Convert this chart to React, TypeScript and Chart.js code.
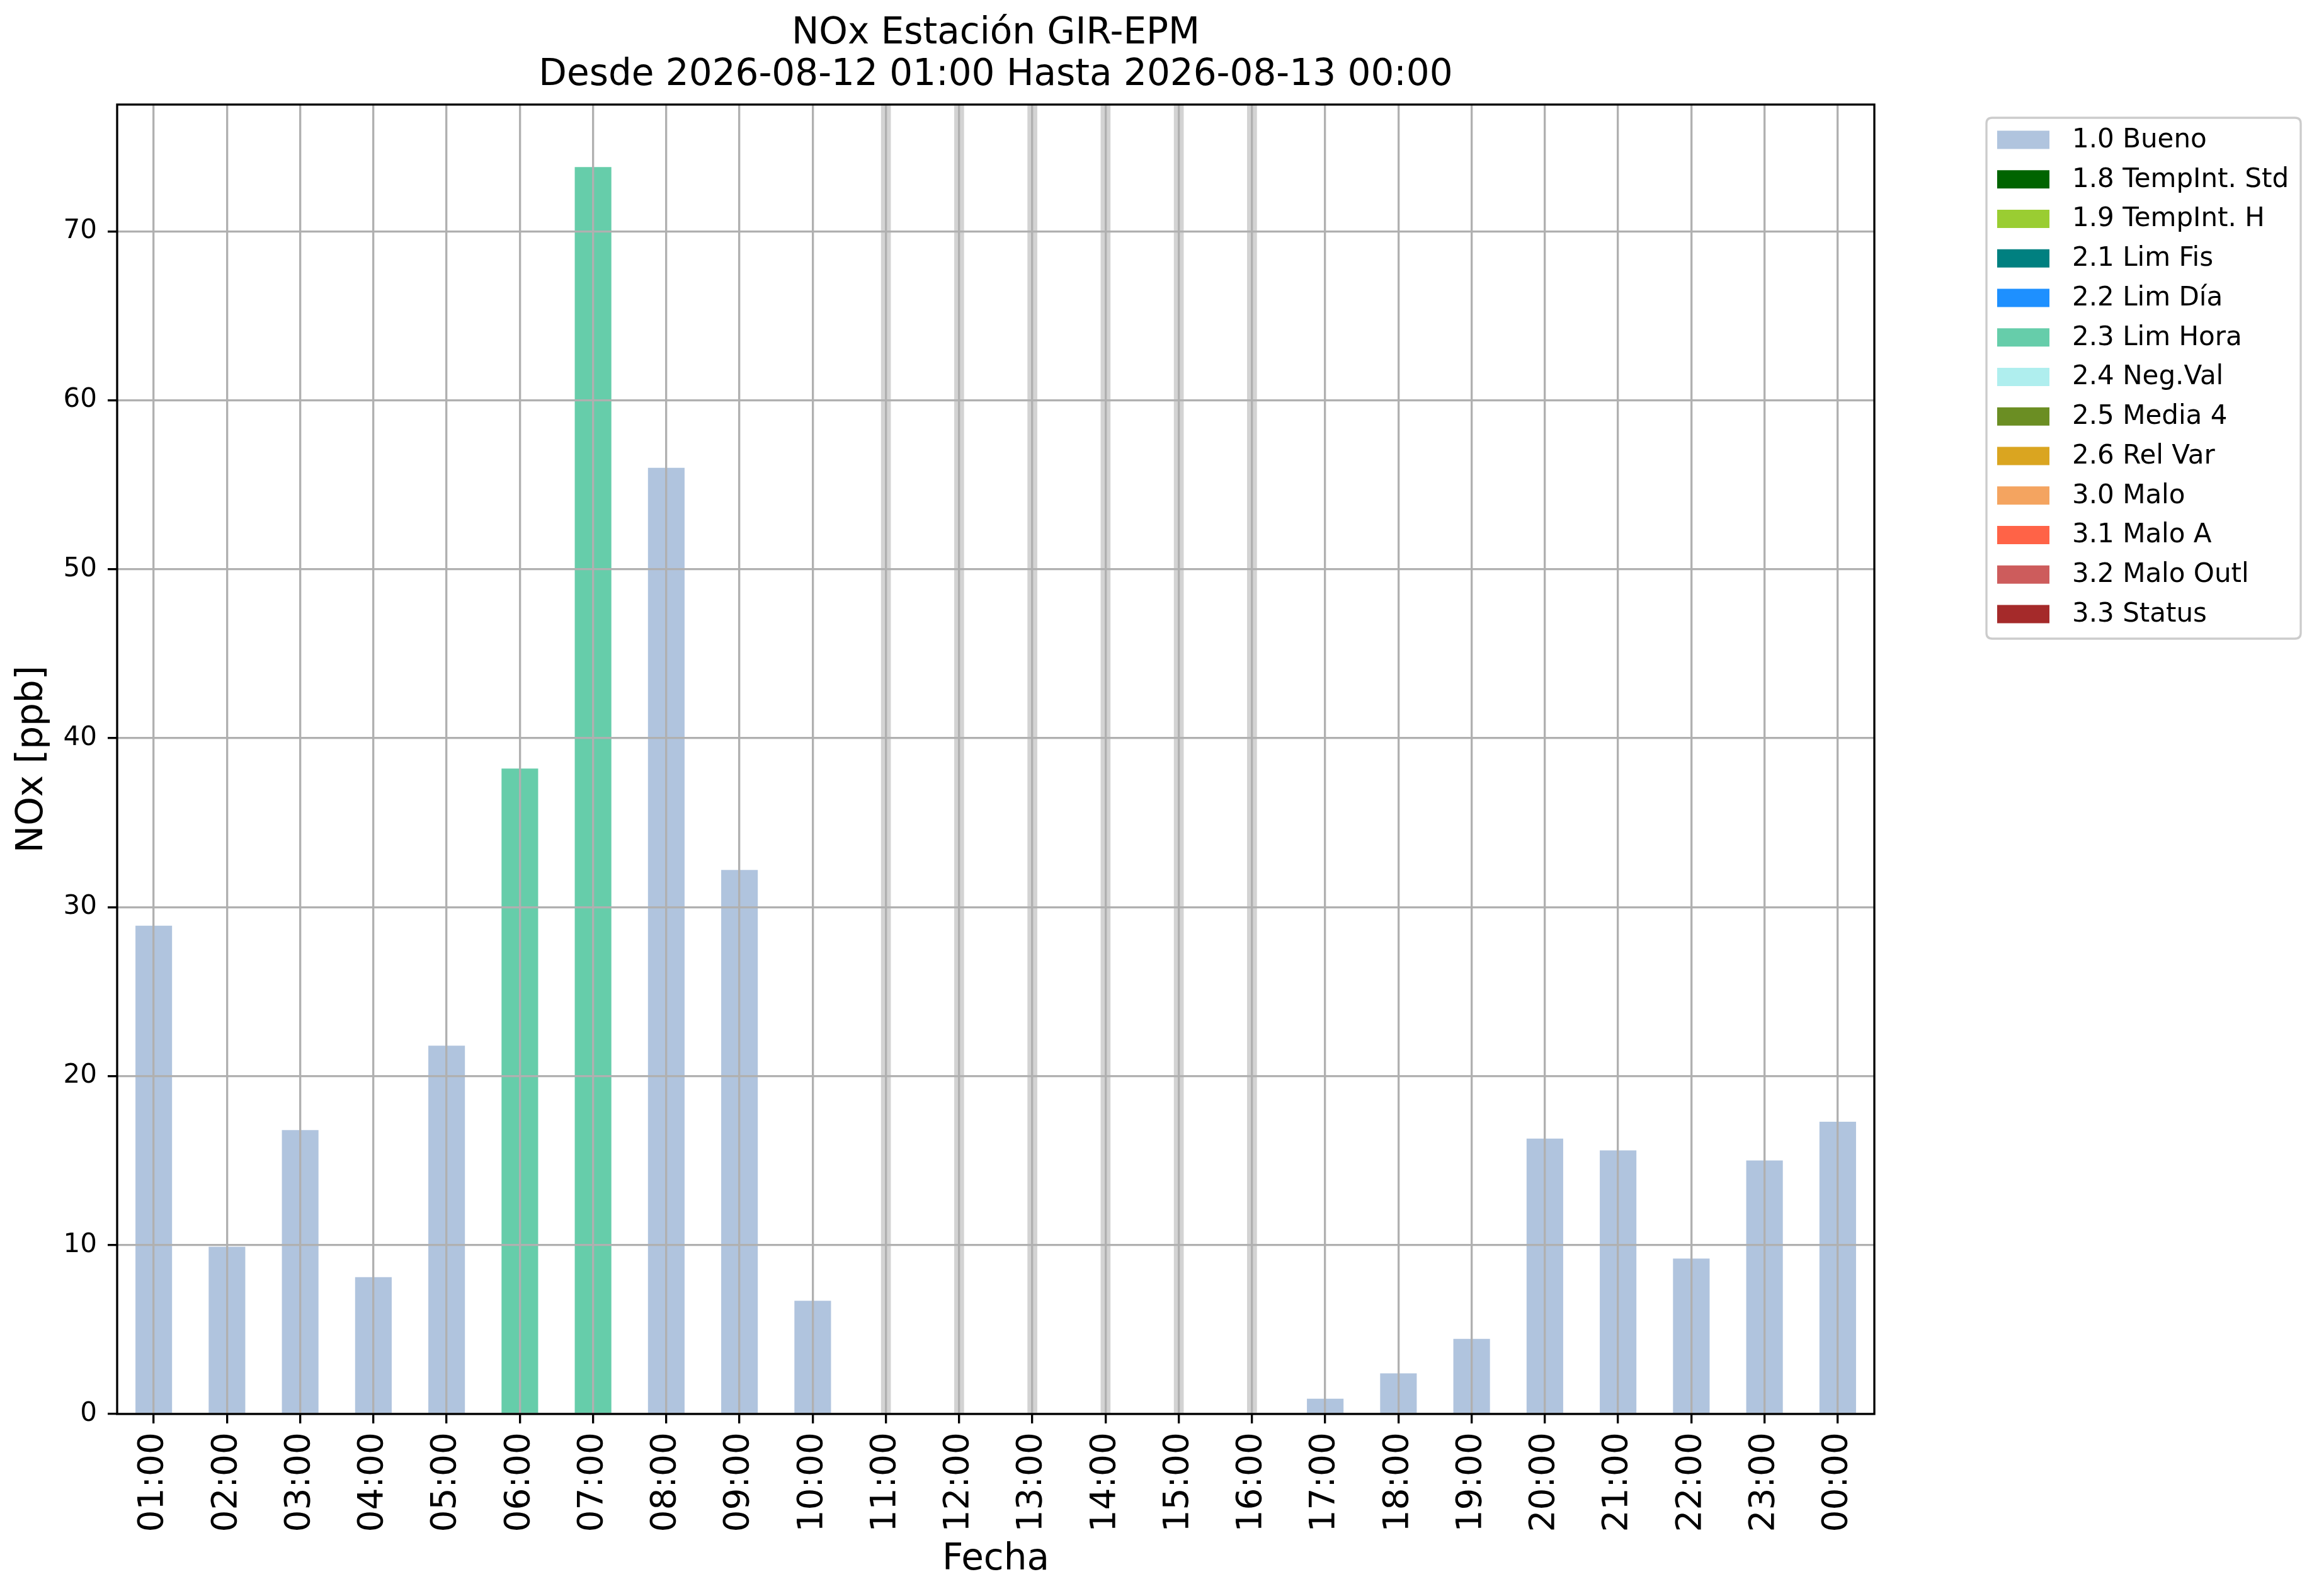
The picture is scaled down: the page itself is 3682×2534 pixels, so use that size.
import React, { useEffect, useRef } from 'react';
import { Chart, registerables } from 'chart.js';

Chart.register(...registerables);

// ---------- data ----------
const HOURS = [
  '01:00', '02:00', '03:00', '04:00', '05:00', '06:00', '07:00', '08:00',
  '09:00', '10:00', '11:00', '12:00', '13:00', '14:00', '15:00', '16:00',
  '17:00', '18:00', '19:00', '20:00', '21:00', '22:00', '23:00', '00:00',
];

const NOX_PPB: (number | null)[] = [
  28.9, 9.9, 16.8, 8.1, 21.8, 38.2, 73.8, 56.0,
  32.2, 6.7, null, null, null, null, null, null,
  0.9, 2.4, 4.45, 16.3, 15.6, 9.2, 15.0, 17.3,
];

const HOUR_FLAGS: (string | null)[] = [
  '1.0', '1.0', '1.0', '1.0', '1.0', '2.3', '2.3', '1.0',
  '1.0', '1.0', null, null, null, null, null, null,
  '1.0', '1.0', '1.0', '1.0', '1.0', '1.0', '1.0', '1.0',
];

const FLAG_CODES = ['1.0', '1.8', '1.9', '2.1', '2.2', '2.3', '2.4', '2.5', '2.6', '3.0', '3.1', '3.2', '3.3'];
const FLAG_LABELS = [
  '1.0 Bueno', '1.8 TempInt. Std', '1.9 TempInt. H', '2.1 Lim Fis', '2.2 Lim Día',
  '2.3 Lim Hora', '2.4 Neg.Val', '2.5 Media 4', '2.6 Rel Var', '3.0 Malo',
  '3.1 Malo A', '3.2 Malo Outl', '3.3 Status',
];
const FLAG_COLORS = [
  '#B0C4DE', '#006400', '#9ACD32', '#008080', '#1E90FF', '#66CDAA', '#AFEEEE',
  '#6B8E23', '#DAA520', '#F4A460', '#FF6347', '#CD5C5C', '#A52A2A',
];
const MISSING_COLOR = '#D3D3D3';

const Y_MAX = 77.5;
const Y_STEP = 10;

const TITLE_LINES = ['NOx Estación GIR-EPM', 'Desde 2026-08-12 01:00 Hasta 2026-08-13 00:00'];
const X_TITLE = 'Fecha';
const Y_TITLE = 'NOx [ppb]';

// ---------- styles ----------
const FONT = "'DejaVu Sans'";
const W = 3682;
const H = 2534;
const LW = 3.33;

const backgroundPlugin = {
  id: 'whiteBg',
  beforeDraw(chart: any) {
    const { ctx } = chart;
    ctx.save();
    ctx.fillStyle = '#ffffff';
    ctx.fillRect(0, 0, chart.width, chart.height);
    ctx.restore();
  },
};

const framePlugin = {
  id: 'axesFrame',
  afterDraw(chart: any) {
    const { ctx, chartArea } = chart;
    ctx.save();
    ctx.strokeStyle = '#000000';
    ctx.lineWidth = LW;
    ctx.strokeRect(chartArea.left, chartArea.top, chartArea.right - chartArea.left, chartArea.bottom - chartArea.top);
    ctx.restore();
  },
};

const legendBoxPlugin = {
  id: 'legendBox',
  afterDraw(chart: any) {
    const { ctx } = chart;
    const x0 = 3154, y0 = 187, x1 = 3653, y1 = 1014, r = 9;
    ctx.save();
    ctx.beginPath();
    ctx.moveTo(x0 + r, y0);
    ctx.lineTo(x1 - r, y0);
    ctx.quadraticCurveTo(x1, y0, x1, y0 + r);
    ctx.lineTo(x1, y1 - r);
    ctx.quadraticCurveTo(x1, y1, x1 - r, y1);
    ctx.lineTo(x0 + r, y1);
    ctx.quadraticCurveTo(x0, y1, x0, y1 - r);
    ctx.lineTo(x0, y0 + r);
    ctx.quadraticCurveTo(x0, y0, x0 + r, y0);
    ctx.closePath();
    ctx.fillStyle = '#ffffff';
    ctx.fill();
    ctx.strokeStyle = '#cccccc';
    ctx.lineWidth = LW;
    ctx.stroke();
    ctx.font = `42px ${FONT}`;
    ctx.textBaseline = 'middle';
    ctx.textAlign = 'left';
    FLAG_LABELS.forEach((label, i) => {
      const cy = 222 + i * 62.75;
      ctx.fillStyle = FLAG_COLORS[i];
      ctx.fillRect(3171, cy - 14.5, 83, 29);
      ctx.fillStyle = '#000000';
      ctx.fillText(label, 3290, cy + 1);
    });
    ctx.restore();
  },
};

export default function App() {
  const canvasRef = useRef<HTMLCanvasElement | null>(null);

  useEffect(() => {
    const canvas = canvasRef.current;
    if (!canvas) return;

    const flagSets = FLAG_CODES.map((code, k) => ({
      label: FLAG_LABELS[k],
      data: NOX_PPB.map((v, i) => (HOUR_FLAGS[i] === code ? v : null)),
      backgroundColor: FLAG_COLORS[k],
      borderWidth: 0,
      grouped: false,
      categoryPercentage: 1.0,
      barPercentage: 0.5,
    }));

    const missingSet = {
      label: 'Sin dato',
      data: NOX_PPB.map((v) => (v === null ? [0, Y_MAX] : null)),
      backgroundColor: MISSING_COLOR,
      borderWidth: 0,
      grouped: false,
      barThickness: 15,
    };

    const gridStyle = {
      color: '#b0b0b0',
      lineWidth: LW,
      z: 1,
      drawTicks: true,
      tickLength: 15,
      tickColor: '#000000',
      tickWidth: LW,
    };

    const chart = new Chart(canvas, {
      type: 'bar',
      data: {
        labels: HOURS,
        datasets: [...flagSets, missingSet] as any,
      },
      plugins: [backgroundPlugin, framePlugin, legendBoxPlugin],
      options: {
        responsive: false,
        animation: false,
        devicePixelRatio: 1,
        layout: { padding: { left: 0, top: 0, right: W - 2976, bottom: 0 } },
        plugins: {
          legend: { display: false },
          tooltip: { enabled: false },
          title: {
            display: true,
            text: TITLE_LINES,
            fullSize: false,
            color: '#000000',
            font: { family: FONT, size: 58, weight: 'normal', lineHeight: 66 / 58 },
            padding: { top: 21, bottom: 13 },
          },
        },
        scales: {
          x: {
            type: 'category',
            offset: true,
            grid: { ...gridStyle, offset: false },
            border: { display: false },
            ticks: {
              autoSkip: false,
              maxRotation: 90,
              minRotation: 90,
              padding: 14,
              color: '#000000',
              font: { family: FONT, size: 55 },
            },
            title: {
              display: true,
              text: X_TITLE,
              color: '#000000',
              font: { family: FONT, size: 58 },
              padding: { top: 0, bottom: 22 },
            },
            afterFit: (s: any) => { s.height = H - 2245; },
          },
          y: {
            type: 'linear',
            min: 0,
            max: Y_MAX,
            grid: gridStyle,
            border: { display: false },
            ticks: {
              stepSize: Y_STEP,
              includeBounds: false,
              padding: 17,
              color: '#000000',
              font: { family: FONT, size: 42 },
            },
            title: {
              display: true,
              text: Y_TITLE,
              color: '#000000',
              font: { family: FONT, size: 58 },
              padding: { top: 17, bottom: 0 },
            },
            afterFit: (s: any) => { s.width = 186; },
          },
        },
      } as any,
    });

    return () => chart.destroy();
  }, []);

  return (
    <div style={{ position: 'absolute', left: 0, top: 0, width: W, height: H, background: '#fff' }}>
      <canvas ref={canvasRef} width={W} height={H} style={{ display: 'block', width: W, height: H }} />
    </div>
  );
}
